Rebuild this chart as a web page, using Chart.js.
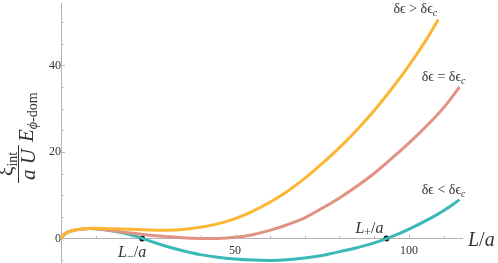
<!DOCTYPE html>
<html>
<head>
<meta charset="utf-8">
<script src="https://cdn.jsdelivr.net/npm/chart.js@4.4.1/dist/chart.umd.min.js"></script>
<style>
  body { margin: 0; background: #fff; }
</style>
</head>
<body>
<canvas id="myChart" width="498" height="263"></canvas>
<script>
// values (L/a on x, scaled energy on y)
const lGrid = [0, 1, 2.5, 5, 8, 10, 15, 20, 25, 30, 35, 40, 45, 50, 55, 60, 65, 70, 75, 80, 85, 90, 95, 100, 105, 110, 114.5];
const belowCrit = [0, 1.0, 1.65, 2.1, 2.35, 2.3, 1.75, 0.9, -0.4, -1.7, -2.8, -3.7, -4.3, -4.7, -4.95, -5.05, -4.9, -4.5, -3.9, -3.0, -2.1, -1.0, 0.45, 2.2, 4.2, 6.5, 9.0];
const atCrit = [0, 1.0, 1.65, 2.1, 2.35, 2.3, 1.8, 1.3, 0.85, 0.5, 0.2, 0.05, 0.05, 0.3, 0.9, 1.9, 3.2, 4.8, 7.0, 9.4, 12.1, 15.1, 18.5, 22.1, 26.0, 30.3, 35.0];
// the upper curve stops earlier
const lAbove = [0, 1, 2.5, 5, 8, 10, 15, 20, 25, 30, 35, 40, 45, 50, 55, 60, 65, 70, 75, 80, 85, 90, 95, 100, 105, 108.4];
const aboveCrit = [0, 1.0, 1.65, 2.1, 2.4, 2.4, 2.3, 2.15, 2.0, 1.95, 2.1, 2.6, 3.4, 4.6, 6.3, 8.4, 10.9, 13.9, 17.3, 21.0, 25.1, 29.6, 34.6, 40.0, 46.0, 50.6];
// roots of the lower curve
const rootL = [23.3, 93.5];
const rootNames = ["−", "+"];

const xTickLabels = [50, 100];
const yTickLabels = [0, 20, 40];

const serif = "'Liberation Serif', 'DejaVu Serif', serif";
const axisGray = "#b4b4b4";
const textColor = "#333";

function pts(xs, ys) {
  return xs.map((x, i) => ({ x: x, y: ys[i] }));
}

function fontOf(p) {
  return (p.italic ? "italic " : "") + p.size + "px " + serif;
}

// draws a row of text pieces (for subscripts etc)
function drawRich(ctx, parts, x, y, align) {
  let w = 0;
  parts.forEach(p => {
    ctx.font = fontOf(p);
    p.w = ctx.measureText(p.t).width;
    w += p.w;
  });
  let cx = align === "center" ? x - w / 2 : align === "right" ? x - w : x;
  parts.forEach(p => {
    ctx.font = fontOf(p);
    ctx.fillText(p.t, cx, y + (p.dy || 0));
    cx += p.w;
  });
  return w;
}

function relLabel(op) {
  return [
    { t: "δϵ", size: 14, italic: false },
    { t: " " + op + " ", size: 14, italic: false },
    { t: "δϵ", size: 14, italic: false },
    { t: "c", size: 10, italic: true, dy: 3 }
  ];
}

// axes sit inside the plot, so they should not take any room
function noRoom(scale) {
  scale.paddingTop = 0;
  scale.paddingBottom = 0;
  scale.paddingLeft = 0;
  scale.paddingRight = 0;
  if (scale.isHorizontal()) scale.height = 0;
  else scale.width = 0;
}

const annotations = {
  id: "annotations",
  afterDatasetsDraw(chart) {
    const ctx = chart.ctx;
    const xs = chart.scales.x;
    const ys = chart.scales.y;
    const x0 = xs.getPixelForValue(0);
    const y0 = ys.getPixelForValue(0);
    ctx.save();
    ctx.textBaseline = "alphabetic";

    // inward tick marks
    ctx.strokeStyle = axisGray;
    ctx.lineWidth = 1;
    ctx.beginPath();
    for (let v = 10; v <= 110; v += 10) {
      const px = Math.round(xs.getPixelForValue(v)) + 0.5;
      const len = v % 50 === 0 ? 4 : 2.5;
      ctx.moveTo(px, y0);
      ctx.lineTo(px, y0 - len);
    }
    for (let v = -5; v <= 50; v += 5) {
      if (v === 0) continue;
      const py = Math.round(ys.getPixelForValue(v)) + 0.5;
      const len = v % 20 === 0 ? 4 : 2.5;
      ctx.moveTo(x0, py);
      ctx.lineTo(x0 + len, py);
    }
    ctx.stroke();

    ctx.fillStyle = textColor;

    // x axis title
    drawRich(ctx, [
      { t: "L", size: 20, italic: true },
      { t: "/", size: 20, italic: false },
      { t: "a", size: 20, italic: true }
    ], xs.right + 6, y0 + 7, "left");

    // curve labels near the ends of the curves
    const ends = [
      { L: lAbove[lAbove.length - 1], E: aboveCrit[aboveCrit.length - 1], op: ">", dx: -23 },
      { L: lGrid[lGrid.length - 1], E: atCrit[atCrit.length - 1], op: "=", dx: -16 },
      { L: lGrid[lGrid.length - 1], E: belowCrit[belowCrit.length - 1], op: "<", dx: -16 }
    ];
    ends.forEach(e => {
      drawRich(ctx, relLabel(e.op), xs.getPixelForValue(e.L) + e.dx, ys.getPixelForValue(e.E) - 6, "center");
    });

    // root labels
    rootL.forEach((r, i) => {
      const px = xs.getPixelForValue(r);
      const parts = [
        { t: "L", size: 16, italic: true },
        { t: rootNames[i], size: 12, italic: false, dy: 3 },
        { t: "/", size: 16, italic: false },
        { t: "a", size: 16, italic: true }
      ];
      if (i === 0) drawRich(ctx, parts, px - 10, y0 + 18, "center");
      else drawRich(ctx, parts, px - 17, y0 - 6, "center");
    });

    // y axis title, rotated
    ctx.translate(35, 183);
    ctx.rotate(-Math.PI / 2);
    // fraction
    ctx.font = "italic 21px " + serif;
    const den = "a U";
    const denW = ctx.measureText(den).width;
    const barW = denW + 7;
    ctx.fillText(den, 3, 0);
    ctx.fillRect(0, -17, barW, 1);
    drawRich(ctx, [
      { t: "ξ", size: 22, italic: false },
      { t: "int", size: 14, italic: false, dy: 4 }
    ], barW / 2, -22, "center");
    // E with subscript
    drawRich(ctx, [
      { t: "E", size: 21, italic: true },
      { t: "ϕ", size: 14, italic: true, dy: 4 },
      { t: "-dom", size: 14, italic: false, dy: 4 }
    ], barW + 3, -2, "left");
    ctx.restore();
  }
};

const ctx = document.getElementById("myChart").getContext("2d");
const myChart = new Chart(ctx, {
  type: "line",
  data: {
    datasets: [
      {
        label: "δϵ > δϵc",
        data: pts(lAbove, aboveCrit),
        borderColor: "rgba(251, 183, 52, 1)",
        borderWidth: 3,
        pointRadius: 0,
        tension: 0.4,
        clip: false
      },
      {
        label: "δϵ = δϵc",
        data: pts(lGrid, atCrit),
        borderColor: "rgba(224, 147, 131, 1)",
        borderWidth: 3,
        pointRadius: 0,
        tension: 0.4,
        clip: false
      },
      {
        label: "δϵ < δϵc",
        data: pts(lGrid, belowCrit),
        borderColor: "rgba(58, 185, 182, 1)",
        borderWidth: 3,
        pointRadius: 0,
        tension: 0.4,
        clip: false
      },
      {
        label: "roots",
        data: rootL.map(r => ({ x: r, y: 0 })),
        showLine: false,
        pointRadius: 3,
        pointBackgroundColor: "#111",
        pointBorderWidth: 0,
        clip: false
      }
    ]
  },
  options: {
    responsive: false,
    animation: false,
    layout: { autoPadding: false, padding: { left: 61, right: 36, top: 3, bottom: 1 } },
    plugins: {
      legend: { display: false },
      tooltip: { enabled: false }
    },
    scales: {
      x: {
        type: "linear",
        min: 0,
        max: 115.2,
        position: { y: 0 },
        afterFit: noRoom,
        grid: { display: false, drawTicks: false },
        border: { color: axisGray },
        ticks: {
          stepSize: 10,
          autoSkip: false,
          maxRotation: 0,
          includeBounds: false,
          color: textColor,
          font: { family: serif, size: 12 },
          padding: 5,
          callback: v => (xTickLabels.includes(v) ? v : null)
        }
      },
      y: {
        type: "linear",
        min: -5.4,
        max: 54.4,
        position: { x: 0 },
        afterFit: noRoom,
        grid: { display: false, drawTicks: false },
        border: { color: axisGray },
        ticks: {
          stepSize: 5,
          autoSkip: false,
          includeBounds: false,
          color: textColor,
          font: { family: serif, size: 12 },
          padding: 3,
          callback: v => (yTickLabels.includes(v) ? v : null)
        }
      }
    }
  },
  plugins: [annotations]
});
</script>
</body>
</html>
